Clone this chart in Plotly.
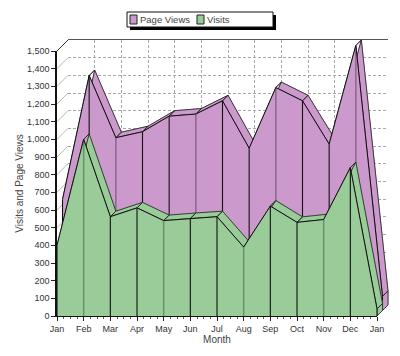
import plotly.graph_objects as go

# ---- data ----
months = ["Jan", "Feb", "Mar", "Apr", "May", "Jun", "Jul", "Aug", "Sep", "Oct", "Nov", "Dec", "Jan"]
visits = [400, 1000, 562, 612, 540, 552, 562, 390, 622, 530, 546, 840, 40]
page_views = [628, 1330, 978, 1012, 1100, 1112, 1187, 918, 1262, 1187, 942, 1500, 80]
series_names = ["Page Views", "Visits"]
y_ticks = list(range(0, 1501, 100))

# ---- geometry / style ----
OFF = 8                    # page body margin of the html page
W, H = 400 - 2 * OFF, 356 - 2 * OFF
X0, X1 = 57 - OFF, 377 - OFF   # px of first / last month on the front plane
Y0, Y1 = 316 - OFF, 51 - OFF   # px of 0 / YMAX on the front plane
YMAX = 1500
DEPTH = 11                # px depth of the 3D box
n = len(months)
pxm = (X1 - X0) / (n - 1)
pxu = (Y0 - Y1) / YMAX
hx = DEPTH / 2 / pxm
hy = DEPTH / 2 / pxu
xs = list(range(n))

PURPLE, GREEN = "#CC99CC", "#99CC99"
PURPLE_SH, GREEN_SH = "#8f6a8f", "#6b946b"
FONT = "Liberation Sans, Arial, sans-serif"

fig = go.Figure()

# dummy traces so the back-wall and front-axis subplots exist
fig.add_trace(go.Scatter(x=[None], y=[None], xaxis="x", yaxis="y", showlegend=False, hoverinfo="skip"))

# left-wall diagonal grid lines (data layer, full-figure axes)
lx, ly = [], []
for v in y_ticks[:-1]:
    lx += [0, 2 * hx, None]
    ly += [v, v + 2 * hy, None]
fig.add_trace(go.Scatter(x=lx, y=ly, xaxis="x2", yaxis="y2", mode="lines",
                         line=dict(color="#b8b8b8", width=1), showlegend=False, hoverinfo="skip"))
fig.add_trace(go.Scatter(x=[0, 2 * hx], y=[YMAX, YMAX + 2 * hy], xaxis="x2", yaxis="y2", mode="lines",
                         line=dict(color="#333", width=1), showlegend=False, hoverinfo="skip"))


def add_series(vals, slot, fill, shade, shade_idx):
    fx, fy = slot * hx, slot * hy
    bx, by = (slot + 1) * hx, (slot + 1) * hy
    # back face
    fig.add_trace(go.Scatter(
        x=[x + bx for x in xs] + [xs[-1] + bx, xs[0] + bx],
        y=[v + by for v in vals] + [by, by],
        xaxis="x2", yaxis="y2", mode="lines", fill="toself", fillcolor=fill,
        line=dict(color=shade, width=0.8), showlegend=False, hoverinfo="skip"))
    # top strips and right cap
    sx, sy = [], []
    for i in range(n - 1):
        sx += [xs[i] + fx, xs[i + 1] + fx, xs[i + 1] + bx, xs[i] + bx, xs[i] + fx, None]
        sy += [vals[i] + fy, vals[i + 1] + fy, vals[i + 1] + by, vals[i] + by, vals[i] + fy, None]
    sx += [xs[-1] + fx, xs[-1] + fx, xs[-1] + bx, xs[-1] + bx, xs[-1] + fx, None]
    sy += [fy, vals[-1] + fy, vals[-1] + by, by, fy, None]
    fig.add_trace(go.Scatter(x=sx, y=sy, xaxis="x2", yaxis="y2", mode="lines", fill="toself",
                             fillcolor=fill, line=dict(color="#222", width=0.8),
                             showlegend=False, hoverinfo="skip"))
    # front face
    fig.add_trace(go.Scatter(
        x=[x + fx for x in xs] + [xs[-1] + fx, xs[0] + fx],
        y=[v + fy for v in vals] + [fy, fy],
        xaxis="x2", yaxis="y2", mode="lines", fill="toself", fillcolor=fill,
        line=dict(width=0), showlegend=False, hoverinfo="skip"))
    # front vertical fold lines
    for i in range(n):
        col = shade if i in shade_idx else "#111"
        fig.add_trace(go.Scatter(x=[xs[i] + fx, xs[i] + fx], y=[fy, vals[i] + fy],
                                 xaxis="x2", yaxis="y2", mode="lines",
                                 line=dict(color=col, width=1.1 if i not in shade_idx else 1.6),
                                 showlegend=False, hoverinfo="skip"))
    # front top edge
    fig.add_trace(go.Scatter(x=[x + fx for x in xs], y=[v + fy for v in vals],
                             xaxis="x2", yaxis="y2", mode="lines",
                             line=dict(color="#111", width=1), showlegend=False, hoverinfo="skip"))


add_series(page_views, 1, PURPLE, PURPLE_SH, {2, 5, 8, 11})
add_series(visits, 0, GREEN, GREEN_SH, {1, 4, 7, 10})
fig.add_trace(go.Scatter(x=[None], y=[None], xaxis="x3", yaxis="y3", showlegend=False, hoverinfo="skip"))

# ---- legend box (drawn as shapes + text) ----
def px_x(p):
    return p / W


def px_y(p):
    return 1 - p / H


LB_L, LB_R, LB_T, LB_B = 127 - OFF, 273 - OFF, 12 - OFF, 27 - OFF
SH = 3
shapes = [
    dict(type="rect", xref="paper", yref="paper", x0=px_x(LB_L + SH), x1=px_x(LB_R + SH),
         y0=px_y(LB_B + SH), y1=px_y(LB_T + SH), fillcolor="#000", line=dict(width=0)),
    dict(type="rect", xref="paper", yref="paper", x0=px_x(LB_L), x1=px_x(LB_R),
         y0=px_y(LB_B), y1=px_y(LB_T), fillcolor="white", line=dict(color="#111", width=1)),
]
annotations = []
legend_items = [(series_names[0], PURPLE, 130 - OFF), (series_names[1], GREEN, 197 - OFF)]
for name, col, sx0 in legend_items:
    shapes.append(dict(type="rect", xref="paper", yref="paper", x0=px_x(sx0), x1=px_x(sx0 + 7),
                       y0=px_y(LB_B - 3), y1=px_y(LB_T + 3), fillcolor=col,
                       line=dict(color="#222", width=1)))
    annotations.append(dict(text=name, xref="paper", yref="paper", x=px_x(sx0 + 8),
                            y=px_y((LB_T + LB_B) / 2), xanchor="left", yanchor="middle",
                            showarrow=False, font=dict(size=9.5, color="#444")))

fig.update_layout(
    width=W, height=H,
    margin=dict(l=0, r=0, t=0, b=0, autoexpand=False),
    paper_bgcolor="white", plot_bgcolor="rgba(0,0,0,0)",
    font=dict(family=FONT, size=9, color="#333"),
    showlegend=False,
    shapes=shapes, annotations=annotations,
    # back wall
    xaxis=dict(domain=[(X0 + DEPTH) / W, (X1 + DEPTH) / W], range=[0, n - 1], dtick=1, tick0=0,
               showgrid=True, griddash="3px,2px", gridcolor="#a8a8a8", gridwidth=1,
               showticklabels=False, ticks="", zeroline=False, side="top",
               showline=True, linecolor="#555", linewidth=1, anchor="y", fixedrange=True),
    yaxis=dict(domain=[(H - (Y0 - DEPTH)) / H, (H - (Y1 - DEPTH)) / H], range=[0, YMAX], dtick=100,
               showgrid=True, griddash="3px,2px", gridcolor="#a8a8a8", gridwidth=1,
               showticklabels=False, ticks="", zeroline=False, anchor="x", fixedrange=True),
    # full-figure data axes
    xaxis2=dict(domain=[0, 1], range=[-X0 / pxm, (W - X0) / pxm], visible=False, anchor="y2"),
    yaxis2=dict(domain=[0, 1], range=[-(H - Y0) / pxu, Y0 / pxu], visible=False, anchor="x2"),
    # front axes
    xaxis3=dict(domain=[X0 / W, X1 / W], range=[0, n - 1], tickvals=xs, ticktext=months,
                ticks="outside", ticklen=4, tickcolor="#222", showline=True, linecolor="#111",
                linewidth=1, showgrid=False, zeroline=False, anchor="y3",
                minor=dict(dtick=0.25, ticks="outside", ticklen=2, tickcolor="#555"),
                title=dict(text="Month", font=dict(size=10, color="#444"), standoff=2)),
    yaxis3=dict(domain=[(H - Y0) / H, (H - Y1) / H], range=[0, YMAX], tickvals=y_ticks,
                tickformat=",", ticks="outside", ticklen=4, tickcolor="#222", showline=True,
                linecolor="#111", linewidth=1.5, showgrid=False, zeroline=False, anchor="x3",
                title=dict(text="Visits and Page Views", font=dict(size=10, color="#444"), standoff=1)),
)

fig.write_html("out.html")
